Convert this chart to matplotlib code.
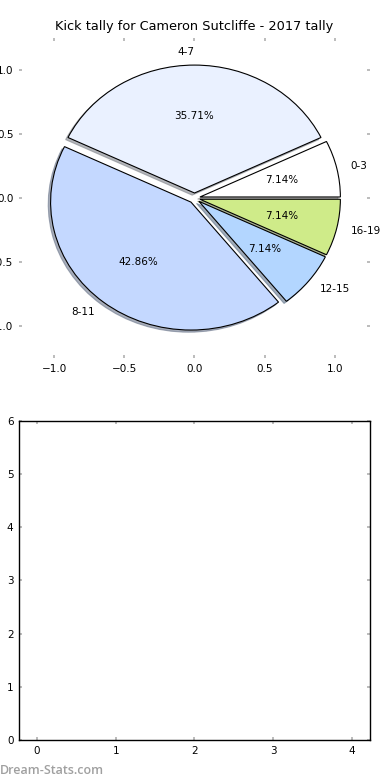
import matplotlib
matplotlib.use("Agg")
import matplotlib.pyplot as plt

# Kick tally per distance band
labels = ['0-3', '4-7', '8-11', '12-15', '16-19']
kicks = [1, 5, 6, 1, 1]
colors = ['#ffffff', '#eaf1ff', '#c4d8ff', '#b3d6ff', '#cfeb89']
explode = [0.04, 0.04, 0.04, 0.04, 0.04]

TITLE = 'Kick tally for Cameron Sutcliffe - 2017 tally'
TICK_GREY = '#b0b0b0'
FS = 7.5

fig = plt.figure(figsize=(3.9, 7.8), dpi=100)

# Top panel: pie (no forced equal aspect, axes ticks still shown)
ax1 = fig.add_axes([0.0487, 0.541, 0.9, 0.41])
ax1.pie(kicks, labels=labels, colors=colors, explode=explode,
        autopct='%.2f%%', startangle=0,
        shadow=dict(ox=-0.012, oy=-0.012, shade=0.45, alpha=0.6),
        wedgeprops=dict(edgecolor='black', linewidth=0.8),
        textprops=dict(fontsize=FS))
ax1.set_aspect('auto')
ax1.set_xlim(-1.25, 1.25)
ax1.set_ylim(-1.25, 1.25)
ax1.set_xticks([-1.0, -0.5, 0.0, 0.5, 1.0])
ax1.set_yticks([-1.0, -0.5, 0.0, 0.5, 1.0])
ax1.set_xticklabels(['\u22121.0', '\u22120.5', '0.0', '0.5', '1.0'])
ax1.set_yticklabels(['\u22121.0', '\u22120.5', '0.0', '0.5', '1.0'])
for s in ax1.spines.values():
    s.set_visible(False)
ax1.set_title(TITLE, fontsize=9.3, pad=6)

# Bottom panel: empty axes
ax2 = fig.add_axes([0.0487, 0.0513, 0.9, 0.409])
ax2.set_xlim(-0.23, 4.23)
ax2.set_ylim(0, 6)
ax2.set_xticks(range(5))
ax2.set_yticks(range(7))
for s in ax2.spines.values():
    s.set_color('black')
    s.set_linewidth(1.0)

for ax in (ax1, ax2):
    ax.tick_params(direction='in', length=2.5, width=1.2, color=TICK_GREY,
                   top=True, right=True, labelsize=FS, pad=4)

fig.text(0.0, 0.004, 'Dream-Stats.com', color='#a0a0a0', fontsize=9,
         family='Open Sans', fontweight='semibold', ha='left', va='bottom')

fig.savefig('out.png', dpi=100)
